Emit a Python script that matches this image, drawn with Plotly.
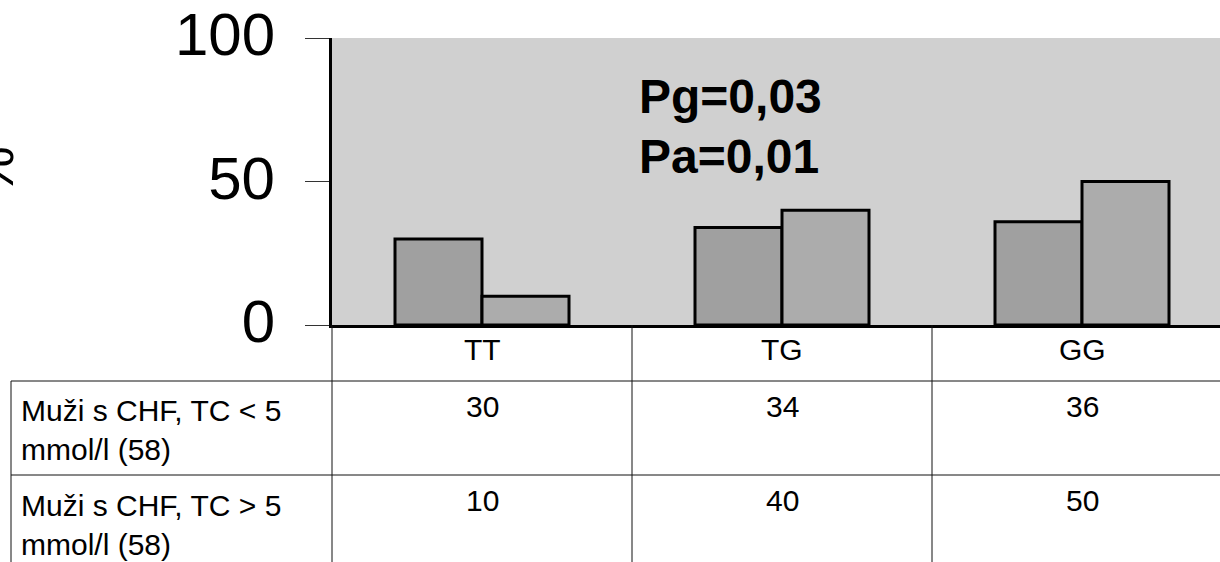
import plotly.graph_objects as go

categories = ["TT", "TG", "GG"]
series_names = ["Muži s CHF, TC < 5 mmol/l (58)", "Muži s CHF, TC > 5 mmol/l (58)"]
row_labels = ["Muži s CHF, TC < 5<br>mmol/l (58)", "Muži s CHF, TC > 5<br>mmol/l (58)"]
low_tc = [30, 34, 36]
high_tc = [10, 40, 50]
y_ticks = [0, 50, 100]
stats_lines = ["Pg=0,03", "Pa=0,01"]
y_title = "%"

W, H = 1220, 562
ML, MR, MT, MB = 332, 0, 38, 237
PW, PH = W - ML - MR, H - MT - MB
X_RANGE = [-0.5, 2.46]

FONT = "Liberation Sans, Arial, sans-serif"


def px_x(p):
    return (p - ML) / PW


def px_y(p):
    return (H - MB - p) / PH


def cat_x(v):
    return (v - X_RANGE[0]) / (X_RANGE[1] - X_RANGE[0])


fig = go.Figure()
fig.add_trace(go.Bar(x=categories, y=low_tc, name=series_names[0],
                     marker=dict(color="#a0a0a0", line=dict(color="black", width=3))))
fig.add_trace(go.Bar(x=categories, y=high_tc, name=series_names[1],
                     marker=dict(color="#acacac", line=dict(color="black", width=3))))

shapes = []
line_style = dict(color="#111111", width=1)
# column separators (header + rows)
for b in [-0.5, 0.5, 1.5]:
    shapes.append(dict(type="line", xref="paper", yref="paper",
                       x0=cat_x(b), x1=cat_x(b), y0=0, y1=px_y(H + 5), line=line_style))
# horizontal row lines
for py in [381, 475]:
    shapes.append(dict(type="line", xref="paper", yref="paper",
                       x0=px_x(11), x1=1.0, y0=px_y(py), y1=px_y(py), line=line_style))
# left border of label column
shapes.append(dict(type="line", xref="paper", yref="paper",
                   x0=px_x(11), x1=px_x(11), y0=px_y(381), y1=px_y(H + 5), line=line_style))

annotations = []
tfont = dict(family=FONT, size=30, color="black")
for i, c in enumerate(categories):
    annotations.append(dict(x=c, xref="x", y=px_y(349), yref="paper", text=c,
                            showarrow=False, font=tfont, xanchor="center", yanchor="middle"))
    annotations.append(dict(x=c, xref="x", y=px_y(407), yref="paper", text=str(low_tc[i]),
                            showarrow=False, font=tfont, xanchor="center", yanchor="middle"))
    annotations.append(dict(x=c, xref="x", y=px_y(501), yref="paper", text=str(high_tc[i]),
                            showarrow=False, font=tfont, xanchor="center", yanchor="middle"))
for r, lab in enumerate(row_labels):
    annotations.append(dict(x=px_x(19), xref="paper", y=px_y(392 + r * 95), yref="paper",
                            text=lab, showarrow=False, font=tfont, align="left",
                            xanchor="left", yanchor="top"))
for k, s in enumerate(stats_lines):
    annotations.append(dict(x=px_x(637), xref="paper", y=px_y(96 + k * 60), yref="paper",
                            text="<b>%s</b>" % s, showarrow=False,
                            font=dict(family=FONT, size=48, color="black"),
                            xanchor="left", yanchor="middle"))
annotations.append(dict(x=px_x(-7), xref="paper", y=px_y(171), yref="paper", text=y_title,
                        textangle=-90, showarrow=False,
                        font=dict(family=FONT, size=56, color="black"),
                        xanchor="center", yanchor="middle"))

fig.update_layout(
    width=W, height=H,
    margin=dict(l=ML, r=MR, t=MT, b=MB, pad=0),
    paper_bgcolor="white", plot_bgcolor="#d0d0d0",
    barmode="group", bargap=0.42, bargroupgap=0,
    showlegend=False,
    shapes=shapes, annotations=annotations,
    font=dict(family=FONT, color="black"),
)
fig.update_xaxes(range=X_RANGE, showticklabels=False, ticks="", showgrid=False,
                 zeroline=False, showline=True, linecolor="black", linewidth=3)
fig.update_yaxes(range=[0, 100], tickvals=y_ticks, ticks="outside", ticklen=24,
                 tickwidth=1, tickcolor="#333333", showgrid=False, zeroline=False,
                 showline=True, linecolor="black", linewidth=3,
                 tickfont=dict(family=FONT, size=60, color="black"),
                 ticklabelstandoff=18, ticklabelshift=-4)

fig.write_html("out.html", config={"displayModeBar": False},
               post_script="document.body.style.margin='0';document.body.style.overflow='hidden';")
